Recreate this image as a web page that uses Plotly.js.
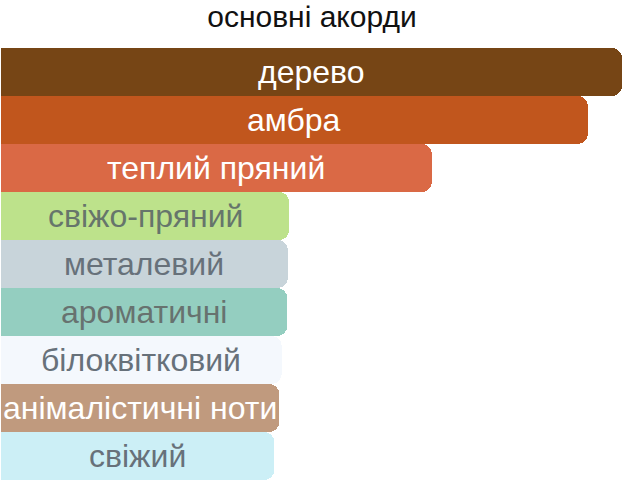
<!DOCTYPE html>
<html>
<head>
<meta charset="utf-8">
<script src="https://cdn.plot.ly/plotly-3.0.1.min.js"></script>
<style>
  html, body { margin: 0; padding: 0; background: #fff; }
  #chart { width: 624px; height: 485px; }
</style>
</head>
<body>
<div id="chart"></div>
<script>
// основні акорди — relative strength of each accord
const accords = ['дерево', 'амбра', 'теплий пряний', 'свіжо-пряний', 'металевий',
                 'ароматичні', 'білоквітковий', 'анімалістичні ноти', 'свіжий'];
const strength = [100, 94.5, 69.4, 46.4, 46.2, 46.1, 45.2, 44.8, 44.0];
const barColors = ['#764515', '#C1561D', '#DA6945', '#BDE28B', '#C8D4DA',
                   '#94CEC0', '#F4F8FD', '#C09A7E', '#CCEFF6'];
const labelColors = ['#FFFFFF', '#FFFFFF', '#FFFFFF', '#66756B', '#67717A',
                     '#67726F', '#67717A', '#FFFFFF', '#67717A'];

const FONT = 'Arial, "Liberation Sans", sans-serif';

const trace = {
  type: 'bar',
  orientation: 'h',
  x: strength,
  y: accords,
  textposition: 'none',
  marker: { color: barColors, cornerradius: 10, line: { width: 0 } },
  hoverinfo: 'none',
};

// labels centred on each bar (annotations so they are never shrunk to fit)
const labels = accords.map((name, i) => ({
  x: strength[i] / 2, y: name, xref: 'x', yref: 'y',
  text: name, showarrow: false,
  xanchor: 'center', yanchor: 'middle',
  font: { family: FONT, size: 32, color: labelColors[i] },
}));

const layout = {
  width: 624,
  height: 485,
  paper_bgcolor: '#fff',
  plot_bgcolor: '#fff',
  margin: { l: 1, r: 2, t: 48, b: 5 },
  bargap: 0,
  showlegend: false,
  title: {
    text: 'основні акорди',
    font: { family: FONT, size: 30, color: '#111' },
    x: 0.5, xanchor: 'center',
    yref: 'container', y: 1 - 16 / 485, yanchor: 'middle',
  },
  xaxis: { range: [0, 100], visible: false, fixedrange: true },
  yaxis: { autorange: 'reversed', visible: false, fixedrange: true },
  annotations: labels,
};

Plotly.newPlot('chart', [trace], layout, { displayModeBar: false, staticPlot: true });
</script>
</body>
</html>
